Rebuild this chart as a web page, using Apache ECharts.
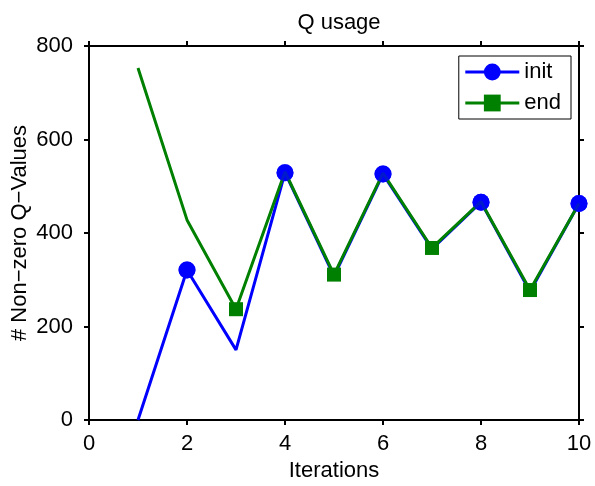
<!DOCTYPE html>
<html>
<head>
<meta charset="utf-8">
<script src="https://cdn.jsdelivr.net/npm/echarts@6/dist/echarts.min.js"></script>
<style>html,body{margin:0;padding:0;background:#fff;}#c{width:595px;height:486px;}</style>
</head>
<body>
<div id="c"></div>
<script>
var iterations = [1, 2, 3, 4, 5, 6, 7, 8, 9, 10];
var initValues = [0, 321, 150, 529, 308, 526, 366, 466, 275, 463];
var endValues = [753, 428, 237, 531, 311, 528, 368, 467, 278, 463];
var xTicks = [0, 2, 4, 6, 8, 10];
var yTicks = [0, 200, 400, 600, 800];

var FONT = 'Liberation Sans, Arial, Helvetica, sans-serif';
var FS = 22;
var chart = echarts.init(document.getElementById('c'));

function pts(vals, markerParity) {
  return iterations.map(function (x, i) {
    var item = { value: [x, vals[i]] };
    if ((x % 2) !== markerParity || x === 1) item.symbol = 'none';
    return item;
  });
}

var axisLine = { show: true, onZero: false, lineStyle: { color: '#000', width: 2 } };
var axisTick = { show: true, length: 5, lineStyle: { color: '#000', width: 2 } };
var labelStyle = { color: '#000', fontSize: FS, fontFamily: FONT };

chart.setOption({
  animation: false,
  backgroundColor: '#fff',
  title: {
    text: 'Q usage', left: 334, top: 7, textAlign: 'center',
    textStyle: { color: '#000', fontSize: FS, fontWeight: 'normal', fontFamily: FONT }
  },
  grid: { left: 89, right: 16, top: 46, bottom: 66, containLabel: false, outerBoundsMode: 'none' },
  legend: {
    data: ['init', 'end'],
    orient: 'vertical',
    right: 24, top: 56,
    padding: [5, 10, 5, 5],
    itemWidth: 54, itemHeight: 21, itemGap: 9,
    borderColor: '#000', borderWidth: 1, borderRadius: 0,
    backgroundColor: '#fff',
    lineStyle: { width: 3 },
    textStyle: { color: '#000', fontSize: FS, fontFamily: FONT }
  },
  xAxis: [{
    type: 'value', min: 0, max: 10, interval: 2, position: 'bottom',
    name: 'Iterations', nameLocation: 'middle', nameGap: 40, nameMoveOverlap: false,
    nameTextStyle: labelStyle,
    axisLine: axisLine, axisTick: axisTick, splitLine: { show: false },
    axisLabel: { color: '#000', fontSize: FS, fontFamily: FONT, margin: 13,
      formatter: function (v) { return xTicks.indexOf(v) >= 0 ? String(v) : ''; } }
  }, {
    type: 'value', min: 0, max: 10, interval: 2, position: 'top',
    axisLine: axisLine, axisTick: axisTick, splitLine: { show: false },
    axisLabel: { show: false }
  }],
  yAxis: [{
    type: 'value', min: 0, max: 800, interval: 200, position: 'left',
    name: '# Non\u2212zero Q\u2212Values', nameLocation: 'middle', nameGap: 58, nameMoveOverlap: false,
    nameTextStyle: labelStyle,
    axisLine: axisLine, axisTick: axisTick, splitLine: { show: false },
    axisLabel: { color: '#000', fontSize: FS, fontFamily: FONT, margin: 16, padding: [6, 0, 0, 0],
      formatter: function (v) { return yTicks.indexOf(v) >= 0 ? String(v) : ''; } }
  }, {
    type: 'value', min: 0, max: 800, interval: 200, position: 'right',
    axisLine: axisLine, axisTick: axisTick, splitLine: { show: false },
    axisLabel: { show: false }
  }],
  series: [{
    name: 'init', type: 'line', z: 2,
    data: pts(initValues, 0),
    symbol: 'circle', symbolSize: 17, showAllSymbol: true,
    lineStyle: { color: '#0000ff', width: 3 },
    itemStyle: { color: '#0000ff' }
  }, {
    name: 'end', type: 'line', z: 3,
    data: pts(endValues, 1),
    symbol: 'rect', symbolSize: 14, showAllSymbol: true,
    lineStyle: { color: '#008000', width: 3 },
    itemStyle: { color: '#008000' }
  }, {
    name: 'initMarkers', type: 'scatter', z: 4,
    data: iterations.filter(function (x) { return x % 2 === 0; }).map(function (x) {
      return [x, initValues[iterations.indexOf(x)]];
    }),
    symbol: 'circle', symbolSize: 17,
    itemStyle: { color: '#0000ff' }
  }]
});
</script>
</body>
</html>
